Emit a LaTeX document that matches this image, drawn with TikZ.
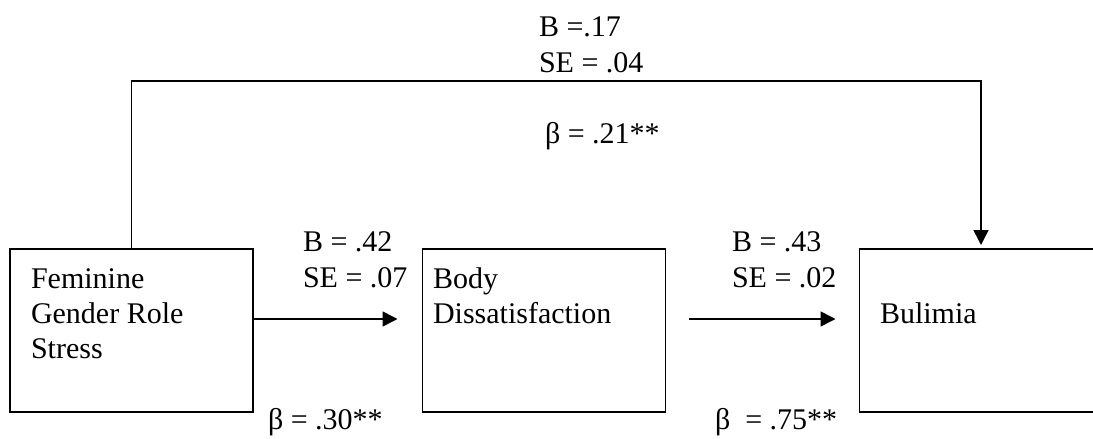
\documentclass[tikz,border=0pt]{standalone}
\usepackage{fontspec}
\setmainfont{Liberation Serif}
\usetikzlibrary{arrows.meta}
\begin{document}
\begin{tikzpicture}[x=1pt,y=-1pt,
  box/.style={draw,line width=1.6pt,rectangle,minimum width=243pt,minimum height=163pt,inner sep=0pt,outer sep=0pt},
  lbl/.style={anchor=base west,inner sep=0pt,outer sep=0pt,font=\fontsize{30}{36}\selectfont},
  arr/.style={line width=1.6pt,-{Triangle[length=15pt,width=15pt]}}]
\useasboundingbox (0,0) rectangle (1093,439);
% boxes
\node[box] (b1) at (131.5,330.5) {};
\node[box] (b2) at (544,330.5) {};
\node[box] (b3) at (981,330.5) {};
% box texts
\node[lbl] (fem1) at (31,288) {Feminine};
\node[lbl] (fem2) at (31,323) {Gender Role};
\node[lbl] (fem3) at (31,358) {Stress};
\node[lbl] (bd1) at (433,288) {Body};
\node[lbl] (bd2) at (433,323) {Dissatisfaction};
\node[lbl] (bul) at (880,323) {Bulimia};
% connectors
\coordinate (top) at (0,81);
\draw[arr,shorten >=4pt] (b1.north) -- (b1.north |- top) -| (b3.north);
\draw[arr,shorten >=25pt] ([yshift=11.5pt]b1.east) -- ([yshift=11.5pt]b2.west);
\draw[arr,shorten <=23pt,shorten >=24pt] ([yshift=11.5pt]b2.east) -- ([yshift=11.5pt]b3.west);
% path labels
\node[lbl] (c1) at (539,36) {B =.17};
\node[lbl] (c2) at (539,72) {SE = .04};
\node[lbl] (c3) at (545,143) {β = .21**};
\node[lbl] (a1) at (303,251) {B = .42};
\node[lbl] (a2) at (303,287) {SE = .07};
\node[lbl] (a3) at (268,429) {β = .30**};
\node[lbl] (d1) at (732,251) {B = .43};
\node[lbl] (d2) at (732,287) {SE = .02};
\node[lbl] (d3) at (715,429) {β \ = .75**};
\end{tikzpicture}
\end{document}
